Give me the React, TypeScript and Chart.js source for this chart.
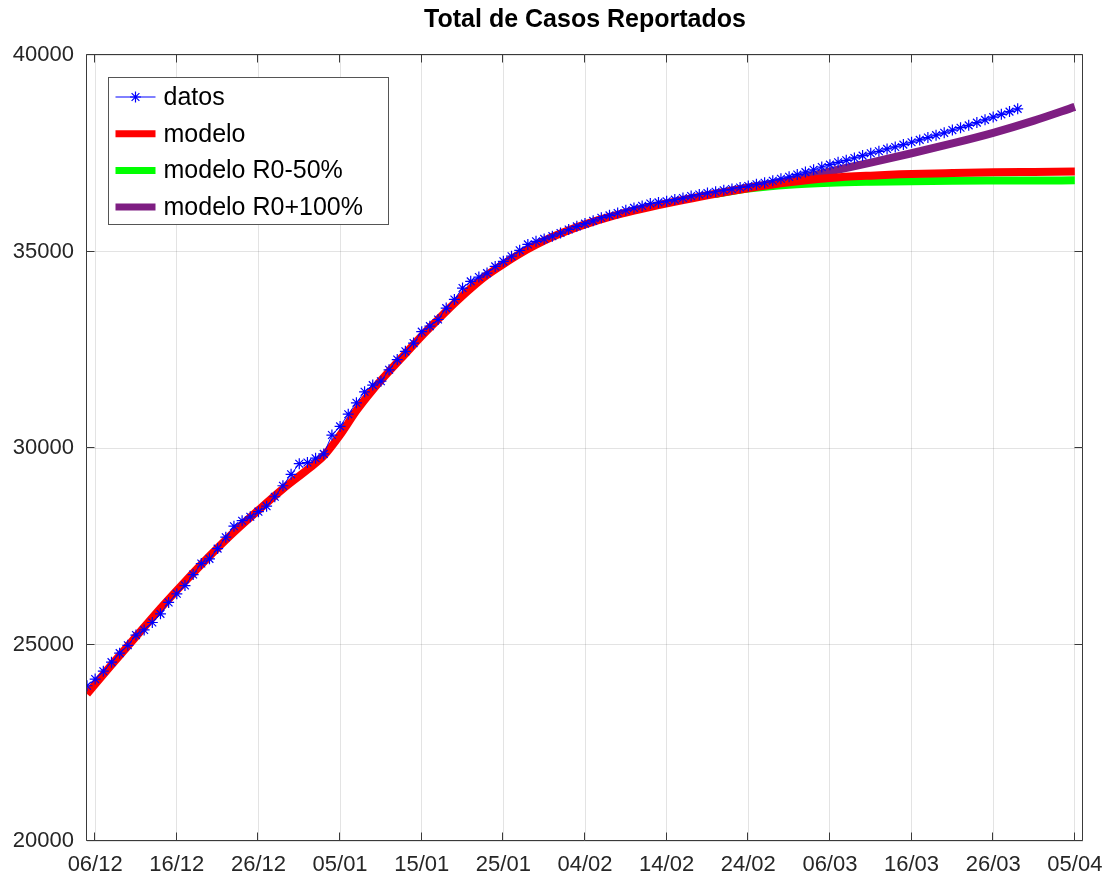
import React, { useEffect, useRef } from 'react';
import { Chart, registerables } from 'chart.js';

Chart.register(...registerables);

const chartTitle = 'Total de Casos Reportados';
const seriesLabels = ['datos', 'modelo', 'modelo R0-50%', 'modelo R0+100%'];
const seriesColors = ['#0000ff', '#ff0000', '#00ff00', '#7e1e82'];

const tickDays = [0, 10, 20, 30, 40, 50, 60, 70, 80, 90, 100, 110, 120];
const tickLabels = ['06/12', '16/12', '26/12', '05/01', '15/01', '25/01', '04/02', '14/02', '24/02', '06/03', '16/03', '26/03', '05/04'];
const yTickValues = [20000, 25000, 30000, 35000, 40000];

// daily reported totals, first value is 05/12 (day -1 relative to 06/12)
const datosStartDay = -1;
const datosValues = [
  23950, 24120, 24320, 24550, 24780, 24980, 25240, 25370, 25560, 25780,
  26070, 26290, 26500, 26780, 27060, 27180, 27440, 27730, 28010, 28150,
  28250, 28380, 28520, 28760, 29040, 29330, 29600, 29630, 29740, 29850,
  30330, 30550, 30860, 31150, 31430, 31600, 31700, 31990, 32250, 32460,
  32670, 32960, 33100, 33270, 33560, 33780, 34070, 34240, 34350, 34450,
  34620, 34750, 34880, 35030, 35180, 35260, 35320, 35390, 35470, 35560,
  35640, 35710, 35780, 35860, 35920, 35980, 36050, 36110, 36160, 36220,
  36250, 36280, 36320, 36360, 36410, 36450, 36490, 36520, 36560, 36590,
  36630, 36665, 36710, 36750, 36800, 36850, 36900, 36960, 37020, 37080,
  37150, 37210, 37270, 37320, 37380, 37440, 37500, 37550, 37610, 37660,
  37720, 37780, 37840, 37900, 37960, 38020, 38090, 38150, 38210, 38280,
  38350, 38420, 38490, 38560, 38630,
];

const modeloDays = [-1, 2, 5, 8, 11, 14, 17, 20, 23, 26, 28, 30, 32, 34, 36, 38, 40, 42, 44, 46, 48, 50, 52, 54, 56, 58, 60, 63, 66, 69, 72, 76, 80, 85, 90, 95, 100, 105, 110, 115, 120];
const modeloValues = [23740, 24480, 25200, 25920, 26600, 27250, 27860, 28420, 28960, 29450, 29800, 30330, 30950, 31480, 31950, 32400, 32850, 33270, 33680, 34060, 34400, 34680, 34940, 35170, 35370, 35540, 35690, 35880, 36040, 36180, 36310, 36470, 36610, 36760, 36870, 36930, 36970, 36995, 37015, 37025, 37035];

const r0MinusDays = [76, 80, 85, 90, 95, 100, 105, 110, 115, 120];
const r0MinusValues = [36470, 36600, 36700, 36750, 36775, 36790, 36800, 36805, 36808, 36810];

const r0PlusDays = [76, 80, 85, 90, 95, 100, 105, 110, 115, 120];
const r0PlusValues = [36470, 36630, 36800, 37040, 37260, 37500, 37750, 38020, 38330, 38680];

const xMin = -1;
const xMax = 121;
const yMin = 20000;
const yMax = 40000;

const FONT = '"Liberation Sans", Arial, Helvetica, sans-serif';

const titlePlugin = {
  id: 'centredTitle',
  afterDraw(chart: any) {
    const { ctx, chartArea } = chart;
    ctx.save();
    ctx.fillStyle = '#000000';
    ctx.font = `bold 25px ${FONT}`;
    ctx.textAlign = 'center';
    ctx.textBaseline = 'middle';
    ctx.fillText(chartTitle, (chartArea.left + chartArea.right) / 2, 20);
    ctx.restore();
  },
};

const framePlugin = {
  id: 'octaveFrame',
  afterDatasetsDraw(chart: any) {
    const { ctx, chartArea } = chart;
    const xs = chart.scales.x;
    const ys = chart.scales.y;
    const l = Math.round(chartArea.left) - 0.5;
    const r = Math.round(chartArea.right) - 0.5;
    const t = Math.round(chartArea.top) - 0.5;
    const b = Math.round(chartArea.bottom) - 0.5;
    ctx.save();
    ctx.strokeStyle = '#3a3a3a';
    ctx.lineWidth = 1;
    ctx.beginPath();
    ctx.rect(l, t, r - l, b - t);
    ctx.stroke();
    const tl = 8;
    ctx.beginPath();
    tickDays.forEach((d) => {
      const px = Math.round(xs.getPixelForValue(d)) - 0.5;
      ctx.moveTo(px, b);
      ctx.lineTo(px, b - tl);
      ctx.moveTo(px, t);
      ctx.lineTo(px, t + tl);
    });
    yTickValues.forEach((v) => {
      const py = Math.round(ys.getPixelForValue(v)) - 0.5;
      ctx.moveTo(l, py);
      ctx.lineTo(l + tl, py);
      ctx.moveTo(r, py);
      ctx.lineTo(r - tl, py);
    });
    ctx.stroke();
    ctx.restore();
  },
};

const legendPlugin = {
  id: 'boxLegend',
  afterDraw(chart: any) {
    const { ctx, chartArea } = chart;
    const bx = Math.round(chartArea.left + 21) + 0.5;
    const by = Math.round(chartArea.top + 22) + 0.5;
    const bw = 280;
    const bh = 147;
    ctx.save();
    ctx.fillStyle = '#ffffff';
    ctx.fillRect(bx, by, bw, bh);
    ctx.strokeStyle = '#555555';
    ctx.lineWidth = 1;
    ctx.strokeRect(bx, by, bw, bh);
    chart.data.datasets.forEach((ds: any, i: number) => {
      const cy = by + 19.5 + i * 36.7;
      const x0 = bx + 7;
      const x1 = bx + 47;
      ctx.strokeStyle = ds.borderColor;
      ctx.lineCap = 'butt';
      if (ds.pointStyle === 'star') {
        ctx.lineWidth = 1;
        ctx.beginPath();
        ctx.moveTo(x0, cy);
        ctx.lineTo(x1, cy);
        ctx.stroke();
        const cx = (x0 + x1) / 2;
        const rr = 5.5;
        ctx.lineWidth = 1.2;
        ctx.beginPath();
        for (let k = 0; k < 4; k++) {
          const a = (k * Math.PI) / 4;
          ctx.moveTo(cx - Math.cos(a) * rr, cy - Math.sin(a) * rr);
          ctx.lineTo(cx + Math.cos(a) * rr, cy + Math.sin(a) * rr);
        }
        ctx.stroke();
      } else {
        ctx.lineWidth = 7;
        ctx.beginPath();
        ctx.moveTo(x0, cy);
        ctx.lineTo(x1, cy);
        ctx.stroke();
      }
      ctx.fillStyle = '#000000';
      ctx.font = `25px ${FONT}`;
      ctx.textAlign = 'left';
      ctx.textBaseline = 'middle';
      ctx.fillText(ds.label, bx + 55, cy + 1);
    });
    ctx.restore();
  },
};

function toPoints(days: number[], values: number[]) {
  return days.map((d, i) => ({ x: d, y: values[i] }));
}

export default function App() {
  const canvasRef = useRef<HTMLCanvasElement | null>(null);

  useEffect(() => {
    if (!canvasRef.current) return;
    const datosDays = datosValues.map((_, i) => datosStartDay + i);
    const chart = new Chart(canvasRef.current, {
      type: 'line',
      data: {
        datasets: [
          {
            label: seriesLabels[0],
            data: toPoints(datosDays, datosValues),
            borderColor: seriesColors[0],
            backgroundColor: seriesColors[0],
            borderWidth: 1,
            pointStyle: 'star',
            pointRadius: 5.5,
            pointBorderWidth: 1.2,
            pointBorderColor: seriesColors[0],
            tension: 0,
            fill: false,
          },
          {
            label: seriesLabels[1],
            data: toPoints(modeloDays, modeloValues),
            borderColor: seriesColors[1],
            backgroundColor: seriesColors[1],
            borderWidth: 8,
            pointRadius: 0,
            cubicInterpolationMode: 'monotone',
            borderJoinStyle: 'round',
            fill: false,
          },
          {
            label: seriesLabels[2],
            data: toPoints(r0MinusDays, r0MinusValues),
            borderColor: seriesColors[2],
            backgroundColor: seriesColors[2],
            borderWidth: 8,
            pointRadius: 0,
            cubicInterpolationMode: 'monotone',
            borderJoinStyle: 'round',
            fill: false,
          },
          {
            label: seriesLabels[3],
            data: toPoints(r0PlusDays, r0PlusValues),
            borderColor: seriesColors[3],
            backgroundColor: seriesColors[3],
            borderWidth: 8,
            pointRadius: 0,
            cubicInterpolationMode: 'monotone',
            borderJoinStyle: 'round',
            fill: false,
          },
        ],
      } as any,
      options: {
        animation: false,
        responsive: false,
        devicePixelRatio: 1,
        layout: { padding: { left: 0, right: 27, top: 55, bottom: 0 } },
        plugins: {
          legend: { display: false },
          tooltip: { enabled: false },
          title: { display: false },
        },
        scales: {
          x: {
            type: 'linear',
            min: xMin,
            max: xMax,
            afterBuildTicks: (axis: any) => {
              axis.ticks = tickDays.map((d) => ({ value: d }));
            },
            afterFit: (axis: any) => {
              axis.height = 40;
              axis.paddingLeft = 0;
              axis.paddingRight = 0;
            },
            grid: { color: 'rgba(0,0,0,0.11)', drawTicks: false },
            border: { display: false },
            ticks: {
              autoSkip: false,
              maxRotation: 0,
              padding: 11,
              color: '#262626',
              font: { family: FONT, size: 22 },
              callback: (v: any) => {
                const idx = tickDays.indexOf(Number(v));
                return idx >= 0 ? tickLabels[idx] : '';
              },
            },
          },
          y: {
            type: 'linear',
            min: yMin,
            max: yMax,
            afterBuildTicks: (axis: any) => {
              axis.ticks = yTickValues.map((v) => ({ value: v }));
            },
            afterFit: (axis: any) => {
              axis.width = 87;
              axis.paddingTop = 0;
              axis.paddingBottom = 0;
            },
            grid: { color: 'rgba(0,0,0,0.11)', drawTicks: false },
            border: { display: false },
            ticks: {
              padding: 13,
              color: '#262626',
              font: { family: FONT, size: 22 },
              callback: (v: any) => String(v),
            },
          },
        },
      } as any,
      plugins: [framePlugin, legendPlugin, titlePlugin],
    });
    return () => chart.destroy();
  }, []);

  return (
    <div style={{ position: 'absolute', left: 0, top: 0, width: 1110, height: 881, background: '#ffffff' }}>
      <canvas ref={canvasRef} width={1110} height={881} />
    </div>
  );
}
